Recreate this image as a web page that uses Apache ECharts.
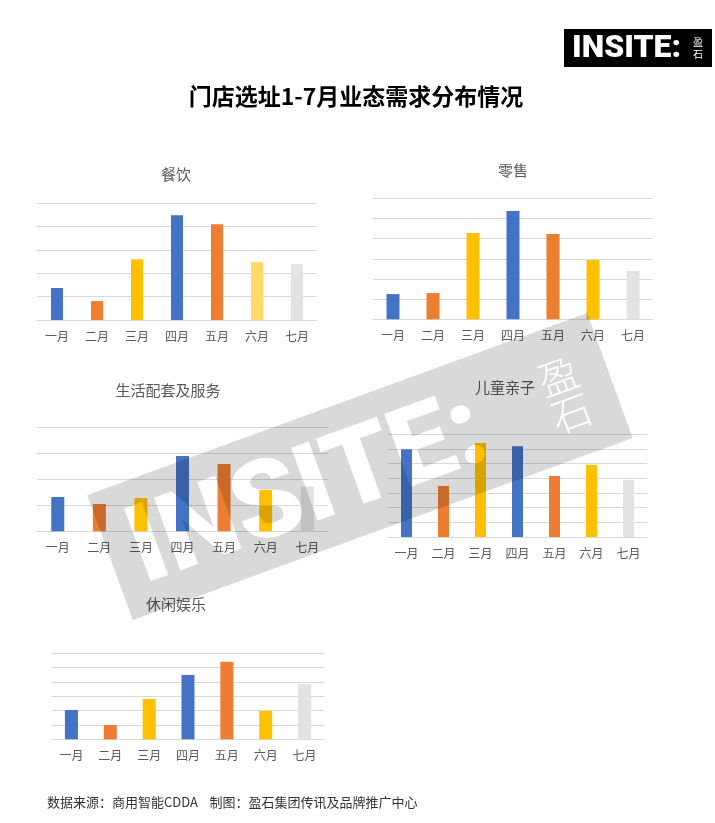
<!DOCTYPE html>
<html>
<head>
<meta charset="utf-8">
<style>
html,body{margin:0;padding:0;background:#fff;}
#chart{width:715px;height:823px;}
#chart canvas{mix-blend-mode:multiply;}
</style>
<script src="https://cdn.jsdelivr.net/npm/echarts@6/dist/echarts.min.js"></script>
</head>
<body>
<div id="chart"></div>
<script>
// ---- data ----
const categories = ['一月', '二月', '三月', '四月', '五月', '六月', '七月'];
const panelTitles = ['餐饮', '零售', '生活配套及服务', '儿童亲子', '休闲娱乐'];
const cateringValues = [1.37, 0.81, 2.6, 4.49, 4.1, 2.48, 2.39];
const retailValues = [1.25, 1.3, 4.28, 5.37, 4.23, 2.94, 2.4];
const lifeServiceValues = [1.32, 1.05, 1.28, 2.9, 2.59, 1.59, 1.72];
const kidsValues = [5.98, 3.48, 6.41, 6.18, 4.16, 4.91, 3.89];
const leisureValues = [2.04, 0.99, 2.8, 4.47, 5.4, 1.97, 3.85];
const axisMaxes = [5, 6, 4, 7, 6];
const mainTitle = '门店选址1-7月业态需求分布情况';
const footerText = '数据来源：商用智能CDDA    制图：盈石集团传讯及品牌推广中心';
const logoText = 'INSITE:';
const logoCn = ['盈', '石'];

// ---- styles / layout ----
const BLUE = '#4472C4', ORANGE = '#ED7D31', YELLOW = '#FFC000', LYELLOW = '#FFD966', GREY = '#E3E3E3';
const paletteDefault = [BLUE, ORANGE, YELLOW, BLUE, ORANGE, YELLOW, GREY];
const paletteCatering = [BLUE, ORANGE, YELLOW, BLUE, ORANGE, LYELLOW, GREY];
const FONT = '"Noto Sans CJK SC", "Noto Sans", sans-serif';

const panels = [
  { values: cateringValues, palette: paletteCatering, left: 37, top: 203.3, width: 280, height: 116.7, barWidth: 12, titleX: 176, titleY: 174 },
  { values: retailValues, palette: paletteDefault, left: 373, top: 198.3, width: 280, height: 121, barWidth: 13, titleX: 513, titleY: 170 },
  { values: lifeServiceValues, palette: paletteDefault, left: 37, top: 427.3, width: 291, height: 104, barWidth: 13, titleX: 168, titleY: 390 },
  { values: kidsValues, palette: paletteDefault, left: 388, top: 434.3, width: 259, height: 102.7, barWidth: 11, titleX: 505, titleY: 387 },
  { values: leisureValues, palette: paletteDefault, left: 52, top: 653, width: 272, height: 86.3, barWidth: 13, titleX: 176, titleY: 604 }
];

const grids = [], xAxes = [], yAxes = [], series = [], graphics = [];
panels.forEach((p, i) => {
  grids.push({ left: p.left, top: p.top, width: p.width, height: p.height, containLabel: false });
  xAxes.push({
    type: 'category', gridIndex: i, data: categories,
    axisLine: { show: true, lineStyle: { color: '#D9D9D9', width: 1 } },
    axisTick: { show: false },
    axisLabel: { color: '#595959', fontSize: 12, fontFamily: FONT, margin: 10, interval: 0 }
  });
  yAxes.push({
    type: 'value', gridIndex: i, min: 0, max: axisMaxes[i], interval: 1,
    axisLine: { show: false }, axisTick: { show: false }, axisLabel: { show: false },
    splitLine: { show: true, lineStyle: { color: '#D9D9D9', width: 1 } }
  });
  series.push({
    type: 'bar', xAxisIndex: i, yAxisIndex: i, barWidth: p.barWidth,
    data: p.values.map((v, k) => ({ value: v, itemStyle: { color: p.palette[k] } })),
    silent: true
  });
  graphics.push({
    type: 'text', x: p.titleX, y: p.titleY,
    style: { text: panelTitles[i], fill: '#595959', font: '15px ' + FONT, textAlign: 'center', textVerticalAlign: 'middle' }
  });
});

// main title
graphics.push({
  type: 'text', x: 356, y: 96,
  style: { text: mainTitle, fill: '#000', font: 'bold 23px ' + FONT, textAlign: 'center', textVerticalAlign: 'middle' }
});
// footer
graphics.push({
  type: 'text', x: 47, y: 802,
  style: { text: footerText, fill: '#333', font: '13px ' + FONT, textAlign: 'left', textVerticalAlign: 'middle' }
});
// logo
graphics.push({
  type: 'group', x: 564, y: 29,
  children: [
    { type: 'rect', shape: { x: 0, y: 0, width: 148, height: 38 }, style: { fill: '#000' } },
    { type: 'text', x: 8, y: 20, style: { text: logoText, fill: '#fff', font: '900 32px Roboto, "Liberation Sans", sans-serif', textAlign: 'left', textVerticalAlign: 'middle' } },
    { type: 'text', x: 134, y: 13, style: { text: logoCn[0], fill: '#fff', font: '10px ' + FONT, textAlign: 'center', textVerticalAlign: 'middle' } },
    { type: 'text', x: 134, y: 25, style: { text: logoCn[1], fill: '#fff', font: '10px ' + FONT, textAlign: 'center', textVerticalAlign: 'middle' } }
  ]
});
// watermark: own canvas layer, composited with multiply (white letters = see-through)
const WZ = 10;
graphics.push({
  type: 'group', x: 360, y: 466.5, rotation: 20 * Math.PI / 180, zlevel: WZ, silent: true,
  children: [
    { type: 'rect', zlevel: WZ, z: 1, shape: { x: -266, y: -66.5, width: 532, height: 133 }, style: { fill: '#D9D9D9' } },
    { type: 'text', zlevel: WZ, z: 2, x: -243, y: 9, style: { text: logoText, fill: '#fff', font: '900 109px Roboto, "Liberation Sans", sans-serif', textAlign: 'left', textVerticalAlign: 'middle' } },
    { type: 'text', zlevel: WZ, z: 2, x: 217, y: -17, style: { text: logoCn[0], fill: '#fff', font: '300 40px ' + FONT, textAlign: 'center', textVerticalAlign: 'middle' } },
    { type: 'text', zlevel: WZ, z: 2, x: 217, y: 22, style: { text: logoCn[1], fill: '#fff', font: '300 40px ' + FONT, textAlign: 'center', textVerticalAlign: 'middle' } }
  ]
});

const chart = echarts.init(document.getElementById('chart'), null, { renderer: 'canvas' });
chart.setOption({
  animation: false,
  backgroundColor: '#fff',
  grid: grids, xAxis: xAxes, yAxis: yAxes, series: series,
  graphic: { elements: graphics }
});
</script>
</body>
</html>
